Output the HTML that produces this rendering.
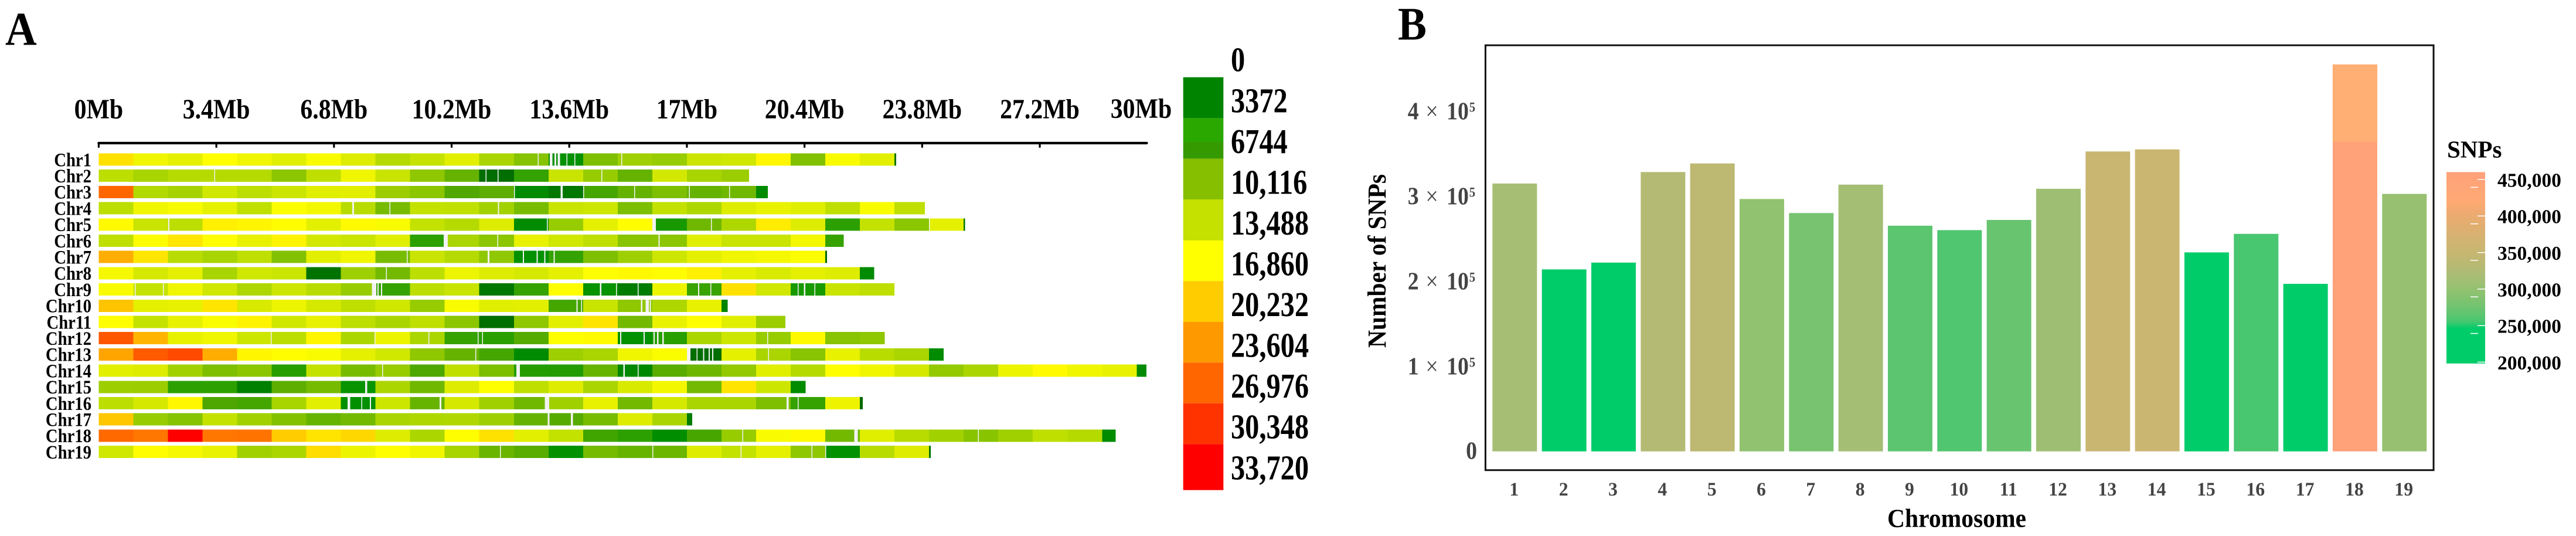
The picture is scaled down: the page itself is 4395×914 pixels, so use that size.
<!DOCTYPE html>
<html lang="en">
<head>
<meta charset="utf-8">
<title>SNP density across chromosomes</title>
<style>
html,body{margin:0;padding:0;background:#fff;}
body{width:4395px;height:914px;overflow:hidden;}
svg{display:block;}
text{font-family:"Liberation Serif",serif;font-weight:bold;}
</style>
</head>
<body>
<svg id="fig" xmlns="http://www.w3.org/2000/svg" width="4395" height="914" viewBox="0 0 4395 914">
<defs>
<linearGradient id="snpGrad" x1="0" y1="0" x2="0" y2="1"></linearGradient>
</defs>
<rect x="0" y="0" width="4395" height="914" fill="#fff"/>
<text transform="translate(9,76.5) scale(.93,1)" font-size="80">A</text>
<text transform="translate(2385,67.7) scale(.93,1)" font-size="79">B</text>
<g id="panelA"></g>
<g id="panelB"></g>
<rect x="2534.4" y="77.2" width="1617.6" height="724.5" fill="none" stroke="#111" stroke-width="3"/>
<text transform="translate(2364,445) rotate(-90)" text-anchor="middle" font-size="44" textLength="296" lengthAdjust="spacingAndGlyphs">Number of SNPs</text>
<text x="3338.5" y="898.3" text-anchor="middle" font-size="44" textLength="237" lengthAdjust="spacingAndGlyphs">Chromosome</text>
<text x="4175" y="268.3" font-size="41">SNPs</text>
</svg>
<script>
// ---------- Panel A data: SNP count per 1 Mb bin ----------
const chromosomes = ['Chr1','Chr2','Chr3','Chr4','Chr5','Chr6','Chr7','Chr8','Chr9','Chr10','Chr11','Chr12','Chr13','Chr14','Chr15','Chr16','Chr17','Chr18','Chr19'];
const chrLengthsMb = [23.05,18.8,19.34,23.88,25.04,21.53,21.05,22.41,23.0,18.18,19.85,22.72,24.42,30.28,20.43,22.08,17.15,29.39,24.05];
const chr1Bins = [19000,16000,15300,16860,16000,15000,16500,14800,12500,13400,15200,12000,10000,4000,9600,11500,11000,13700,14000,17500,9800,16500,15200,2000];
const chr2Bins = [12900,11900,12600,12500,12500,10300,13000,16000,13500,10500,8400,1800,6300,13500,11000,8400,14200,11900,11200];
const chr3Bins = [27000,12400,11800,14000,12900,13700,15000,15200,11200,10300,7400,8000,3500,2300,7000,8400,9600,8400,8900,3500];
const chr4Bins = [12900,16000,16400,15400,13100,16700,16200,12700,9200,13300,13100,11600,9300,13500,13800,9500,13200,12200,14800,15600,15000,13000,16500,13000];
const chr5Bins = [17200,13500,12900,18000,17600,17000,15200,17200,16500,13300,12500,14800,3500,11000,15300,17000,5000,8900,12200,18200,14800,6000,13300,10300,15300,2000];
const chr6Bins = [13000,16700,18700,16800,15500,17700,14200,13600,15000,6000,12000,10300,15500,14000,13000,10100,10300,15000,13500,13500,16200,6400];
const chr7Bins = [22500,18700,12700,11900,13000,9800,15200,16000,9300,13500,12500,10500,4000,6300,9600,11400,13800,15300,16000,16300,16700,1500];
const chr8Bins = [16300,14300,15300,11900,14000,13600,2000,11400,9000,12900,15800,14800,14300,15300,16800,17300,17000,18000,15300,14500,15300,14800,3500];
const chr9Bins = [16500,13300,16000,14000,12200,13800,12700,11000,6400,12900,13500,2300,6400,16800,4200,2500,15800,6500,19000,14000,5000,13500,13000];
const chr10Bins = [21000,15300,15500,18700,14500,15800,14300,13000,14000,11000,16500,15000,15200,7000,13500,10500,12200,15500,3000];
const chr11Bins = [16800,13300,15500,16600,17700,14000,15500,12900,12000,13000,10300,1800,10500,15200,18800,9000,15600,16800,15000,11200];
const chr12Bins = [28000,22000,15500,16000,13800,12900,17600,12100,15800,12100,6400,5900,7700,16800,17200,4000,5800,12100,13800,11000,17300,10100,10500];
const chr13Bins = [23000,27800,28800,22500,17500,17000,16500,15300,14000,10500,8400,7000,3500,11400,12000,16000,16600,1800,15300,12000,10100,15500,12700,12000,3500];
const chr14Bins = [15200,14800,11600,9600,10300,5700,13300,9300,11000,7300,13000,9500,5600,5500,8500,3300,7800,8800,10700,15000,12500,16800,16000,14300,10700,12000,15800,17200,16000,15500,3500];
const chr15Bins = [11300,11200,6000,6000,2800,8000,9200,4200,12100,8900,14800,16800,13000,14800,12000,14500,16200,9000,18800,13800,3500];
const chr16Bins = [12900,14300,17400,7300,7000,11900,15200,3800,13800,8500,14300,11500,8900,11500,15500,9000,14300,12000,12000,9600,6400,15900,1500];
const chr17Bins = [20800,11000,10000,13300,11600,9800,8500,9000,12000,12200,12300,11400,8400,7700,9300,14800,12000,2500];
const chr18Bins = [26800,26000,33700,26000,26100,20500,18800,19700,14800,12100,16800,19000,15200,13300,6800,6000,3700,7100,11000,16500,17200,9000,15000,12700,11600,10100,11500,13000,12500,3500];
const chr19Bins = [14000,17000,16300,15600,11600,12100,19300,15800,16800,16000,11900,8600,7800,4000,9200,8500,8700,14800,13300,15300,10500,3900,12700,14800,2000];
const binValues = [chr1Bins,chr2Bins,chr3Bins,chr4Bins,chr5Bins,chr6Bins,chr7Bins,chr8Bins,chr9Bins,chr10Bins,chr11Bins,chr12Bins,chr13Bins,chr14Bins,chr15Bins,chr16Bins,chr17Bins,chr18Bins,chr19Bins];
// Uncovered stretches: start Mb, width Mb
const coverageGaps = [
 [[12.69,.02],[13.04,.07],[13.17,.05],[13.27,.06],[13.52,.02],[13.75,.02],[15.1,.03]],
 [[3.34,.02],[14.53,.02],[11.18,.02],[11.53,.02]],
 [[12.0,.03],[13.35,.06],[14.0,.03],[15.48,.02],[17.06,.02],[18.22,.03]],
 [[7.33,.05],[8.4,.03],[11.54,.03]],
 [[2.01,.03],[12.95,.03],[16.0,.1],[17.7,.02],[24.0,.02]],
 [[9.97,.12],[11.52,.02],[16.18,.03]],
 [[8.9,.03],[11.24,.05],[12.26,.03],[12.66,.03],[12.88,.03],[13.15,.03]],
 [[8.3,.03]],
 [[1.04,.02],[1.86,.02],[7.9,.12],[8.06,.03],[8.16,.03],[14.49,.04],[14.95,.03],[15.58,.02],[17.32,.04],[17.68,.02],[20.2,.03],[20.38,.04],[20.69,.02]],
 [[13.81,.03],[13.94,.03],[15.67,.04],[15.81,.09],[15.93,.03]],
 [],
 [[4.97,.02],[7.97,.02],[9.53,.03],[10.95,.02],[11.08,.03],[15.07,.03],[15.75,.03],[16.04,.03],[16.14,.04],[16.29,.04],[19.32,.02]],
 [[10.89,.02],[17.0,.1],[17.28,.03],[17.47,.03],[17.63,.03],[17.73,.03],[19.35,.02]],
 [[8.19,.02],[12.07,.1],[15.16,.05],[15.58,.02]],
 [[7.7,.06]],
 [[7.19,.08],[7.59,.03],[7.84,.03],[9.85,.05],[12.89,.13],[19.88,.06],[20.2,.03]],
 [[12.98,.05],[13.65,.06]],
 [[18.6,.03],[21.84,.1],[25.41,.03]],
 [[11.6,.02],[16.0,.02],[18.55,.02],[20.6,.02],[21.0,.02]]
];
const mbTicks = [0,3.4,6.8,10.2,13.6,17,20.4,23.8,27.2];
const mbLabels = ['0Mb','3.4Mb','6.8Mb','10.2Mb','13.6Mb','17Mb','20.4Mb','23.8Mb','27.2Mb','30Mb'];
const mbLabelPositions = [0,3.4,6.8,10.2,13.6,17,20.4,23.8,27.2,30.13];
const densityLegendLabels = ['0','3372','6744','10,116','13,488','16,860','20,232','23,604','26,976','30,348','33,720'];

// ---------- Panel B data ----------
const chrNumbers = ['1','2','3','4','5','6','7','8','9','10','11','12','13','14','15','16','17','18','19'];
const snpCounts = [315000,214000,222000,328500,338600,296800,280300,313700,265400,260200,272200,308800,352700,355100,234000,255800,197000,455000,302800];
const yTicks = [0,100000,200000,300000,400000];
const legendTicks = [450000,400000,350000,300000,250000,200000];
const legendTickLabels = ['450,000','400,000','350,000','300,000','250,000','200,000'];
const bar18BandFrom = 364000;

// ---------- Scales ----------
const densityScale = [[0,'#005f00'],[1500,'#006800'],[2400,'#007a00'],[3800,'#009000'],[6000,'#2ca000'],[7400,'#50a800'],[8900,'#70b800'],[10116,'#88c400'],[11500,'#a0d000'],[12300,'#b0d800'],[13488,'#c8e400'],[14500,'#d8ea00'],[15300,'#e4f000'],[16000,'#f0f500'],[16860,'#ffff00'],[20232,'#ffd000'],[23604,'#ff9c00'],[26976,'#ff6600'],[30348,'#ff3300'],[33720,'#ff0000']];
const snpScale = [[198000,'#00cc6a'],[246000,'#00cc6a'],[255800,'#48c670'],[265000,'#5bc570'],[280000,'#78c370'],[297000,'#90c270'],[315000,'#a6be74'],[338000,'#bdb872'],[355000,'#cab671'],[405000,'#eeaa70'],[419000,'#ffaa73'],[460000,'#ffa07a']];
const densitySwatches = [[131.7,201.7,'#008400'],[201.7,242,'#2aa800'],[242,270.7,'#359a00'],[270.7,340,'#86bf00'],[340,410,'#c4e100'],[410,479.3,'#ffff00'],[479.3,549,'#ffcc00'],[549,618.3,'#ff9900'],[618.3,687.7,'#ff6600'],[687.7,757.3,'#ff3300'],[757.3,835.7,'#ff0000']];

function hexToRgb(h){return [parseInt(h.slice(1,3),16),parseInt(h.slice(3,5),16),parseInt(h.slice(5,7),16)];}
function colorAt(scale,v){
  if(v<=scale[0][0])return scale[0][1];
  for(let i=1;i<scale.length;i++){
    if(v<=scale[i][0]){
      const t=(v-scale[i-1][0])/(scale[i][0]-scale[i-1][0]);
      const a=hexToRgb(scale[i-1][1]),b=hexToRgb(scale[i][1]);
      return 'rgb('+a.map((c,k)=>Math.round(c+(b[k]-c)*t)).join(',')+')';
    }
  }
  return scale[scale.length-1][1];
}

const SVGNS='http://www.w3.org/2000/svg';
function addRect(parent,x,y,w,h,fill){
  const r=document.createElementNS(SVGNS,'rect');
  r.setAttribute('x',x);r.setAttribute('y',y);r.setAttribute('width',w);r.setAttribute('height',h);r.setAttribute('fill',fill);
  parent.appendChild(r);return r;
}
function addLine(parent,x1,y1,x2,y2,stroke,sw){
  const l=document.createElementNS(SVGNS,'line');
  l.setAttribute('x1',x1);l.setAttribute('y1',y1);l.setAttribute('x2',x2);l.setAttribute('y2',y2);l.setAttribute('stroke',stroke);l.setAttribute('stroke-width',sw);
  parent.appendChild(l);return l;
}
function addText(parent,x,y,str,size,sx,anchor,fill){
  const t=document.createElementNS(SVGNS,'text');
  t.setAttribute('transform','translate('+x+','+y+') scale('+sx+',1)');
  t.setAttribute('font-size',size);t.setAttribute('text-anchor',anchor);t.setAttribute('fill',fill);
  t.textContent=str;parent.appendChild(t);return t;
}

// ---------- Panel A ----------
const panelA=document.getElementById('panelA');
const xMb=mb=>168.4+59.03*mb;
const rowY=i=>261.5+27.7*i;
const rowH=21;

const axisLine=addLine(panelA,xMb(0),244,1956.5,244,'#000',4.2);
axisLine.setAttribute('stroke-linecap','round');



mbTicks.forEach(mb=>{
  const tick=addLine(panelA,xMb(mb),244,xMb(mb),250.5,'#000',3.2);
  tick.setAttribute('stroke-linecap','round');
  
  
});
mbLabels.forEach((label,i)=>{
  const t=addText(panelA,xMb(mbLabelPositions[i]),i===mbLabels.length-1?201:202,label,48,.87,'middle','#000');
  
  
});

chromosomes.forEach((name,i)=>{
  const row=document.createElementNS(SVGNS,'g');
  
  
  row.setAttribute('shape-rendering','crispEdges');
  panelA.appendChild(row);
  const label=addText(panelA,156,rowY(i)+21.8,name,33,.87,'end','#000');
  
  
  binValues[i].forEach((v,b)=>{
    const end=Math.min(b+1,chrLengthsMb[i]);
    const cell=addRect(row,xMb(b),rowY(i),xMb(end)-xMb(b),rowH,colorAt(densityScale,v));
    
    
  });
  coverageGaps[i].forEach(g=>{
    const gap=addRect(row,xMb(g[0]),rowY(i),Math.max(1.5,59.03*g[1]),rowH,'#f2f2f2');
    
    
  });
});

densitySwatches.forEach(s=>{
  const sw=addRect(panelA,2018.7,s[0],68.6,s[1]-s[0],s[2]);
  
  
});
densityLegendLabels.forEach((label,i)=>{
  const t=addText(panelA,2100,121.7+69.56*i,label,59,.82,'start','#000');
  
  
});

// ---------- Panel B ----------
const panelB=document.getElementById('panelB');
const yVal=v=>769.7-v*0.00145;
const xBand=i=>2546.3+84.33*i;
const barW=76;

snpCounts.forEach((v,i)=>{
  const bar=addRect(panelB,xBand(i),yVal(v),barW,yVal(0)-yVal(v),colorAt(snpScale,v));
  
  
  if(v>bar18BandFrom){
    const cap=addRect(panelB,xBand(i),yVal(v),barW,yVal(bar18BandFrom)-yVal(v),'#ffae74');
    
    
  }
  const t=addText(panelB,xBand(i)+barW/2-1,845,chrNumbers[i],33,.96,'middle','#444');
  
  
});

yTicks.forEach(v=>{
  const y=yVal(v)+14;
  if(v===0){
    const zero=addText(panelB,2520,y-1,'0',42,.9,'end','#444');
    
    
    return;
  }
  const t=addText(panelB,2401.8,y,String(v/100000),42,.9,'start','#444');
  
  
  const times=document.createElementNS(SVGNS,'tspan');
  times.setAttribute('dx','13');times.setAttribute('font-weight','normal');times.textContent='\u00d7';t.appendChild(times);
  const ten=document.createElementNS(SVGNS,'tspan');
  ten.setAttribute('dx','16');ten.textContent='10';t.appendChild(ten);
  const exp=document.createElementNS(SVGNS,'tspan');
  exp.setAttribute('dx','1');exp.setAttribute('dy','-13.3');exp.setAttribute('font-size','23');exp.textContent='5';t.appendChild(exp);
});

// Legend colour bar
const legTop=293.5,legBottom=619.8;
const legY=v=>617.5-(v-200000)*0.001246;
const grad=document.getElementById('snpGrad');
snpScale.slice().reverse().forEach(s=>{
  const st=document.createElementNS(SVGNS,'stop');
  st.setAttribute('offset',Math.max(0,Math.min(1,(legY(s[0])-legTop)/(legBottom-legTop))));
  st.setAttribute('stop-color',s[1]);
  grad.appendChild(st);
});
const colorbar=addRect(panelB,4174,legTop,66,legBottom-legTop,'url(#snpGrad)');


legendTicks.forEach((v,i)=>{
  const y=legY(v);
  const tick=addLine(panelB,4227,y,4240,y,'#fff',1.5);
  
  
  if(v>200000){
    const inner=addLine(panelB,4215,y+13.4,4228,y+13.4,'#fff',1.5);
    
    
  }
  const t=addText(panelB,4261,y+12.4,legendTickLabels[i],33.5,1,'start','#000');
  
  
});
</script>
</body>
</html>
